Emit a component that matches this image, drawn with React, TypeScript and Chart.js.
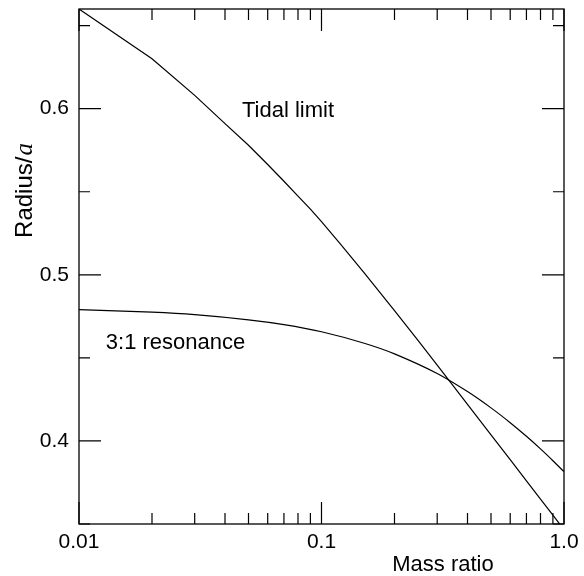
import React, { useEffect, useRef } from "react";
import { Chart, registerables } from "chart.js";

Chart.register(...registerables);

const tidalMassRatio = [0.01, 0.02, 0.03, 0.04, 0.05, 0.06, 0.07, 0.08, 0.09, 0.1, 0.12, 0.15, 0.2, 0.25, 0.3, 0.35, 0.4, 0.5, 0.6, 0.7, 0.8, 0.9, 1.0];
const tidalLimit = [0.66, 0.63, 0.608, 0.591, 0.578, 0.5664, 0.5563, 0.5474, 0.5395, 0.532, 0.5183, 0.5012, 0.4785, 0.4606, 0.4457, 0.433, 0.422, 0.4037, 0.3887, 0.376, 0.365, 0.3553, 0.3466];

const resonanceMassRatio = [0.01, 0.02, 0.03, 0.05, 0.07, 0.1, 0.15, 0.2, 0.3, 0.4, 0.5, 0.6, 0.7, 0.8, 0.9, 1.0];
const resonance31 = [0.4791, 0.4775, 0.476, 0.4729, 0.47, 0.4657, 0.4588, 0.4524, 0.4406, 0.4297, 0.4199, 0.411, 0.4028, 0.3952, 0.3881, 0.3815];

const xTickValues = [0.01, 0.1, 1];
const xTickLabels = ["0.01", "0.1", "1.0"];
const xMinorTicks = [0.02, 0.03, 0.04, 0.05, 0.06, 0.07, 0.08, 0.09, 0.2, 0.3, 0.4, 0.5, 0.6, 0.7, 0.8, 0.9];
const yTickValues = [0.4, 0.5, 0.6];
const yTickLabels = ["0.4", "0.5", "0.6"];
const yMinorTicks = [0.35, 0.45, 0.55, 0.65];

const annotationTexts = ["Tidal limit", "3:1 resonance"];
const annotationX = [0.047, 0.0129];
const annotationY = [0.595, 0.4554];

const xTitle = "Mass ratio";
const yTitleMain = "Radius/";
const yTitleSymbol = "a";

const SANS = '"Liberation Sans", Arial, sans-serif';

const overlay = {
  id: "overlay",
  afterDraw(chart: any) {
    const { ctx, chartArea, scales } = chart;
    const { left, right, top, bottom } = chartArea;
    const x = scales.x;
    const y = scales.y;
    ctx.save();
    ctx.strokeStyle = "#000";
    ctx.lineWidth = 1.3;
    ctx.strokeRect(left, top, right - left, bottom - top);

    ctx.lineWidth = 1.2;
    ctx.beginPath();
    const major = 22;
    const minor = 11;
    const xt = (v: number, len: number) => {
      const px = x.getPixelForValue(v);
      ctx.moveTo(px, bottom);
      ctx.lineTo(px, bottom - len);
      ctx.moveTo(px, top);
      ctx.lineTo(px, top + len);
    };
    const yt = (v: number, len: number) => {
      const py = y.getPixelForValue(v);
      ctx.moveTo(left, py);
      ctx.lineTo(left + len, py);
      ctx.moveTo(right, py);
      ctx.lineTo(right - len, py);
    };
    xTickValues.forEach((v) => xt(v, major));
    xMinorTicks.forEach((v) => xt(v, minor));
    yTickValues.forEach((v) => yt(v, major));
    yMinorTicks.forEach((v) => yt(v, minor));
    ctx.stroke();

    ctx.fillStyle = "#000";
    ctx.font = `22px ${SANS}`;
    ctx.textAlign = "left";
    ctx.textBaseline = "alphabetic";
    annotationTexts.forEach((t, i) => {
      ctx.fillText(t, x.getPixelForValue(annotationX[i]), y.getPixelForValue(annotationY[i]));
    });

    ctx.textAlign = "center";
    ctx.fillText(xTitle, right - 121, 571);

    ctx.translate(32, 191);
    ctx.rotate(-Math.PI / 2);
    ctx.textAlign = "left";
    ctx.font = `24px ${SANS}`;
    const w1 = ctx.measureText(yTitleMain).width;
    ctx.font = `italic 25px "Liberation Serif", serif`;
    const w2 = ctx.measureText(yTitleSymbol).width;
    const start = -(w1 + w2) / 2;
    ctx.font = `24px ${SANS}`;
    ctx.fillText(yTitleMain, start, 0);
    ctx.font = `italic 25px "Liberation Serif", serif`;
    ctx.fillText(yTitleSymbol, start + w1 + 1, 0);
    ctx.restore();
  },
};

export default function App() {
  const ref = useRef<HTMLCanvasElement | null>(null);
  useEffect(() => {
    document.body.style.margin = "0";
    const canvas = ref.current;
    if (!canvas) return;
    const chart = new Chart(canvas, {
      type: "line",
      data: {
        datasets: [
          {
            label: "Tidal limit",
            data: tidalMassRatio.map((m, i) => ({ x: m, y: tidalLimit[i] })),
            borderColor: "#000",
            borderWidth: 1.2,
            pointRadius: 0,
            tension: 0,
            fill: false,
          },
          {
            label: "3:1 resonance",
            data: resonanceMassRatio.map((m, i) => ({ x: m, y: resonance31[i] })),
            borderColor: "#000",
            borderWidth: 1.2,
            pointRadius: 0,
            tension: 0.3,
            fill: false,
          },
        ],
      },
      options: {
        responsive: false,
        animation: false,
        events: [],
        layout: { padding: { top: 9, right: 20, left: 0, bottom: 0 } },
        plugins: { legend: { display: false }, tooltip: { enabled: false }, title: { display: false } },
        scales: {
          x: {
            type: "logarithmic",
            min: 0.01,
            max: 1,
            afterBuildTicks: (s: any) => {
              s.ticks = xTickValues.map((v) => ({ value: v }));
            },
            afterFit: (s: any) => {
              s.height = 52;
              s.paddingLeft = 0;
              s.paddingRight = 0;
            },
            ticks: {
              callback: (v: any) => xTickLabels[xTickValues.indexOf(Number(v))] ?? "",
              font: { family: SANS, size: 21 },
              color: "#000",
              padding: 6,
              maxRotation: 0,
              autoSkip: false,
            },
            grid: { display: false, drawTicks: false },
            border: { display: false },
          },
          y: {
            type: "linear",
            min: 0.35,
            max: 0.66,
            afterBuildTicks: (s: any) => {
              s.ticks = yTickValues.map((v) => ({ value: v }));
            },
            afterFit: (s: any) => {
              s.width = 79;
              s.paddingTop = 0;
              s.paddingBottom = 0;
            },
            ticks: {
              callback: (v: any) => yTickLabels[yTickValues.findIndex((t) => Math.abs(t - Number(v)) < 1e-6)] ?? "",
              font: { family: SANS, size: 21 },
              color: "#000",
              padding: 10,
              autoSkip: false,
            },
            grid: { display: false, drawTicks: false },
            border: { display: false },
          },
        },
      },
      plugins: [overlay],
    } as any);
    return () => chart.destroy();
  }, []);
  return (
    <div style={{ width: 584, height: 576, background: "#fff" }}>
      <canvas ref={ref} width={584} height={576} style={{ display: "block" }} />
    </div>
  );
}
